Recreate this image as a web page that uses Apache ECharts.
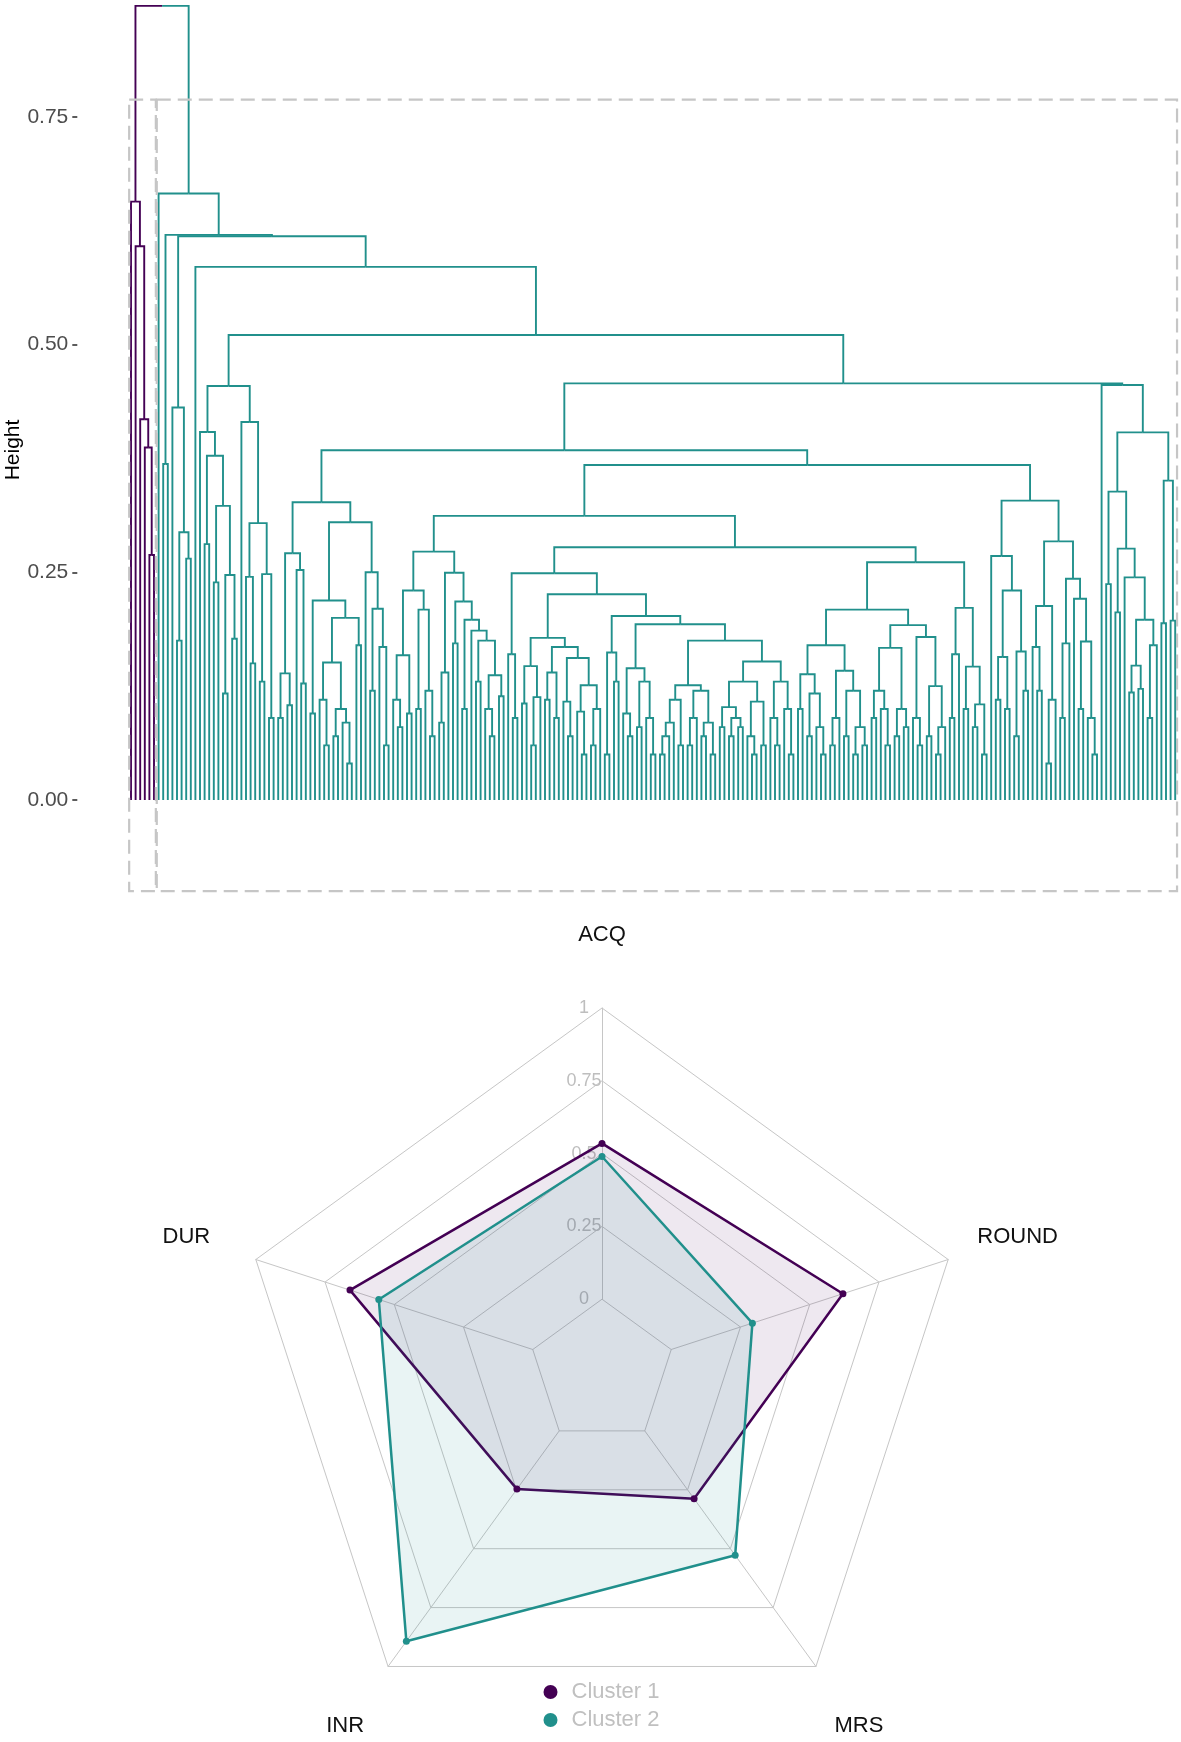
<!DOCTYPE html>
<html>
<head>
<meta charset="utf-8">
<title>ACQ clusters</title>
<script src="https://cdn.jsdelivr.net/npm/echarts@6.0.0/dist/echarts.min.js"></script>
<style>
  html, body { margin: 0; padding: 0; background: #ffffff; }
  #chart { width: 1181px; height: 1742px; }
</style>
</head>
<body>
<div id="chart"></div>
<script>
// ---------------------------------------------------------------------------
// Hierarchical clustering, written as compact Newick:
//   "."        one case (leaf)
//   "(a,b)h"   clades a and b merged at height h
// ---------------------------------------------------------------------------
const cladePurple = "(.,(.,(.,(.,(.,.)0.269)0.387)0.418)0.608)0.657";

const clade78  = "(.,.)0.369";
const clade179 = "(.,((.,.)0.175,(.,.)0.265)0.294)0.431";
const cladeA   = "(.,((.,.)0.281,((.,.)0.239,((.,.)0.117,(.,.)0.177)0.247)0.323)0.378)0.404";
const cladeB   = "(.,((.,(.,.)0.15)0.245,((.,.)0.13,(.,.)0.09)0.248)0.304)0.415";
const clade207 = `(${cladeA},${cladeB})0.4546`;

const n503 = "((.,.)0.09,(.,.)0.104)0.139";
const n550 = "(.,(.,.)0.128)0.2526";
const n617 = "(.,(.,.)0.06)0.11";
const n662 = "((.,.)0.07,(.,(.,.)0.04)0.085)0.1";
const n777 = "((.,.)0.12,(.,(.,.)0.06)0.168)0.21";
const clade291 = `((${n503},${n550})0.271,(((.,.)0.095,((${n617},${n662})0.151,(.,.)0.17)0.2)0.219,(.,${n777})0.25)0.305)0.327`;

const n82  = "((.,(.,.)0.08)0.11,(.,.)0.095)0.159";
const n133 = "((.,.)0.1,(.,(.,.)0.07)0.12)0.209";
const n345 = "((.,(.,.)0.07)0.1,(.,.)0.114)0.137";
const clade392 = `((${n82},${n133})0.23,(((.,.)0.085,.)0.14,((.,.)0.172,((.,.)0.1,(.,((.,.)0.13,${n345})0.175)0.186)0.198)0.218)0.2496)0.2727`;

const n455 = "((.,.)0.106,((.,.)0.06,.)0.113)0.147";
const n520 = "((.,.)0.11,(.,.)0.09)0.14";
const n600 = "((.,(.,.)0.07)0.108,((.,(.,.)0.05)0.097,((.,.)0.06,.)0.1)0.126)0.156";
const n508 = `(${n455},(${n520},${n600})0.168)0.178`;
const n690 = "((.,.)0.05,(.,.)0.13)0.162";
const n775 = "((.,(.,.)0.07)0.095,((.,.)0.08,(.,(.,.)0.05)0.09)0.13)0.1446";
const n155 = "(((((.,.)0.05,.)0.07,.)0.085,(.,.)0.06)0.11,(((.,.)0.06,.)0.09,((.,.)0.07,(.,.)0.05)0.085)0.12)0.126";
const n370 = "((((.,.)0.08,((.,.)0.07,(.,.)0.08)0.09)0.102,((.,(.,.)0.05)0.07,(.,.)0.06)0.108)0.13,((.,(.,.)0.06)0.09,(.,(.,.)0.05)0.1)0.13)0.152";
const clade499 = `((.,(.,.)0.09)0.16,(${n508},(${n690},(${n775},(${n155},${n370})0.175)0.193)0.202)0.226)0.249`;

const n507 = "((.,.)0.1,((.,.)0.07,(.,(.,.)0.05)0.08)0.117)0.138";
const n623 = "(((.,.)0.06,.)0.09,((.,.)0.07,((.,.)0.05,(.,.)0.06)0.08)0.12)0.142";
const n757 = "(((.,.)0.09,(.,(.,.)0.06)0.1)0.12,((.,.)0.07,(.,.)0.08)0.1)0.167";
const n93  = "((.,(.,.)0.06)0.09,((.,.)0.07,((.,.)0.05,.)0.08)0.125)0.179";
const n882 = "(((.,.)0.09,.)0.16,((.,.)0.1,((.,.)0.08,(.,.)0.05)0.105)0.1464)0.211";
const clade826 = `(((${n507},${n623})0.17,(${n757},${n93})0.192)0.209,${n882})0.261`;

const clade929 = "((.,(((.,.)0.11,(.,.)0.1)0.157,((.,.)0.07,(.,.)0.12)0.163)0.23)0.268,(((.,(.,.)0.12)0.168,((.,.)0.04,.)0.11)0.213,(((.,.)0.09,.)0.172,(.,((.,.)0.1,(.,(.,.)0.05)0.09)0.174)0.221)0.243)0.284)0.3287";

const nRightL = "((.,.)0.237,((.,.)0.206,(.,(((.,.)0.118,(.,.)0.122)0.1475,((.,.)0.09,.)0.17)0.198)0.2445)0.276)0.3386";
const cladeRight = `(${nRightL},((.,.)0.194,(.,.)0.197)0.3507)0.4037`;

const treeNewick = `(${cladePurple},(.,(${clade78},(${clade179},(.,(${clade207},((${clade291},((${clade392},(${clade499},${clade826})0.2775)0.312,${clade929})0.3678)0.384,(.,${cladeRight})0.4557)0.4575)0.5106)0.5854)0.619)0.6205)0.666)0.872`;

const clusterNames  = ['Cluster 1', 'Cluster 2'];
const clusterColors = ['#440154', '#21908C'];
const heightTicks   = [0, 0.25, 0.5, 0.75];
const cutBoxTop     = 0.769;
const cutBoxBottom  = -0.1;

// ---------------------------------------------------------------------------
// Cluster profiles (scaled 0..1)
// ---------------------------------------------------------------------------
const radarAxes       = ['ACQ', 'DUR', 'INR', 'MRS', 'ROUND'];
const cluster1Profile = [0.535, 0.66, 0.247, 0.288, 0.62];
const cluster2Profile = [0.49, 0.556, 0.893, 0.528, 0.293];

// ---------------------------------------------------------------------------
// Tree parsing and layout
// ---------------------------------------------------------------------------
function parseNewick(s) {
  let pos = 0;
  function node() {
    if (s[pos] === '.') { pos++; return { leaf: true }; }
    pos++;                 // '('
    const l = node();
    pos++;                 // ','
    const r = node();
    pos++;                 // ')'
    let num = '';
    while (pos < s.length && /[0-9.]/.test(s[pos])) num += s[pos++];
    return { l, r, h: parseFloat(num) };
  }
  return node();
}

const root = parseNewick(treeNewick);
let leafCounter = 0;
function place(n, group) {
  n.group = group;
  if (n.leaf) { n.x = leafCounter++; n.y = 0; return; }
  place(n.l, group); place(n.r, group);
  n.x = (n.l.x + n.r.x) / 2; n.y = n.h;
}
root.group = -1;
place(root.l, 0);
place(root.r, 1);
root.x = (root.l.x + root.r.x) / 2; root.y = root.h;
const leafCount = leafCounter;

// half-brackets: child (x, y) up to parent height, then across to parent x
const branchData = [];
function collect(n) {
  if (n.leaf) return;
  [n.l, n.r].forEach(c => {
    const g = n === root ? c.group : n.group;
    branchData.push([c.x, c.y, n.x, n.h, g]);
    collect(c);
  });
}
collect(root);

// dashed boxes around the two clusters
const boxData = [0, 1].map(g => {
  let lo = Infinity, hi = -Infinity;
  (function walk(n) {
    if (n.leaf) { lo = Math.min(lo, n.x); hi = Math.max(hi, n.x); return; }
    walk(n.l); walk(n.r);
  })(g === 0 ? root.l : root.r);
  return [lo - 0.4, hi + 0.4, cutBoxBottom, cutBoxTop];
});

// ---------------------------------------------------------------------------
const FONT = 'Liberation Sans, Arial, sans-serif';
const chart = echarts.init(document.getElementById('chart'), null, { renderer: 'canvas' });

const yMin = -0.10981, yMax = 0.87844;
const plotTop = 0, plotHeight = 900;
const radarRadius = 364;

chart.setOption({
  backgroundColor: '#ffffff',
  animation: false,
  grid: [
    { left: 126.4, top: plotTop, width: 1053.4, height: plotHeight, containLabel: false, outerBoundsMode: 'none' },
    { left: 77.3, top: plotTop, width: 1, height: plotHeight, containLabel: false, outerBoundsMode: 'none' }
  ],
  xAxis: [
    { gridIndex: 0, type: 'value', min: -1, max: leafCount, show: false },
    { gridIndex: 1, type: 'value', min: 0, max: 1, show: false }
  ],
  yAxis: [
    { gridIndex: 0, type: 'value', min: yMin, max: yMax, show: false },
    {
      gridIndex: 1, type: 'value', min: yMin, max: yMax,
      name: 'Height', nameLocation: 'middle', nameGap: 53, nameRotate: 90,
      nameTextStyle: { color: '#000000', fontSize: 21, fontFamily: FONT },
      axisLine: { show: false },
      splitLine: { show: false },
      axisTick: { show: true, length: 5, customValues: heightTicks, lineStyle: { color: '#333333', width: 1.6 } },
      axisLabel: {
        show: true, customValues: heightTicks, margin: 9,
        color: '#4D4D4D', fontSize: 21, fontFamily: FONT,
        formatter: v => v.toFixed(2)
      }
    }
  ],
  radar: {
    center: [602, 1372],
    radius: radarRadius,
    startAngle: 90,
    shape: 'polygon',
    splitNumber: 5,
    nameGap: 73,
    z: 1,
    indicator: radarAxes.map((name, i) => {
      const ind = { name, min: -0.25, max: 1 };
      if (i === 0) ind.axisLabel = { show: true };
      return ind;
    }),
    axisName: { color: '#111111', fontSize: 22, fontFamily: FONT, align: 'center', verticalAlign: 'middle' },
    // spokes start at the "0" ring, leaving the centre open
    axisLine: { lineStyle: { color: '#C6C6C6', width: 1, type: [300, 1000], dashOffset: 1300 - radarRadius * 0.2 } },
    splitLine: { lineStyle: { color: '#C6C6C6', width: 1 } },
    splitArea: { show: false },
    axisTick: { show: false },
    axisLabel: {
      show: false, color: '#BEBEBE', fontSize: 18, fontFamily: FONT,
      align: 'center', verticalAlign: 'middle', margin: 18,
      formatter: v => (v < 0 ? '' : String(v))
    }
  },
  legend: {
    data: clusterNames,
    orient: 'vertical',
    left: 538.5, top: 1676,
    icon: 'circle', itemWidth: 14, itemHeight: 14, itemGap: 6,
    textStyle: { color: '#C0C0C0', fontSize: 22, fontFamily: FONT, padding: [0, 0, 0, 9] }
  },
  series: [
    {
      type: 'custom',
      name: 'dendrogram',
      xAxisIndex: 0, yAxisIndex: 0,
      renderItem: (params, api) => {
        const a = api.coord([api.value(0), api.value(1)]);
        const b = api.coord([api.value(0), api.value(3)]);
        const c = api.coord([api.value(2), api.value(3)]);
        return {
          type: 'polyline',
          shape: { points: [a, b, c] },
          style: { stroke: clusterColors[api.value(4)], lineWidth: 1.9, fill: 'none' }
        };
      },
      encode: { x: [0, 2], y: [1, 3] },
      data: branchData,
      silent: true,
      z: 2
    },
    {
      type: 'custom',
      name: 'cut boxes',
      xAxisIndex: 0, yAxisIndex: 0,
      renderItem: (params, api) => {
        const p0 = api.coord([api.value(0), api.value(3)]);
        const p1 = api.coord([api.value(1), api.value(2)]);
        return {
          type: 'rect',
          shape: { x: p0[0], y: p0[1], width: p1[0] - p0[0], height: p1[1] - p0[1] },
          style: { stroke: '#C6C6C6', lineWidth: 2.2, lineDash: [14, 7], fill: 'none' }
        };
      },
      encode: { x: [0, 1], y: [2, 3] },
      data: boxData,
      silent: true,
      z: 3
    },
    {
      type: 'radar',
      z: 3,
      symbol: 'circle',
      symbolSize: 7,
      silent: true,
      data: [
        {
          name: clusterNames[0], value: cluster1Profile,
          itemStyle: { color: clusterColors[0] },
          lineStyle: { color: clusterColors[0], width: 2.5 },
          areaStyle: { color: 'rgba(68,1,84,0.13)' }
        },
        {
          name: clusterNames[1], value: cluster2Profile,
          itemStyle: { color: clusterColors[1] },
          lineStyle: { color: clusterColors[1], width: 2.5 },
          areaStyle: { color: 'rgba(33,144,140,0.14)' }
        }
      ]
    }
  ]
});
</script>
</body>
</html>
